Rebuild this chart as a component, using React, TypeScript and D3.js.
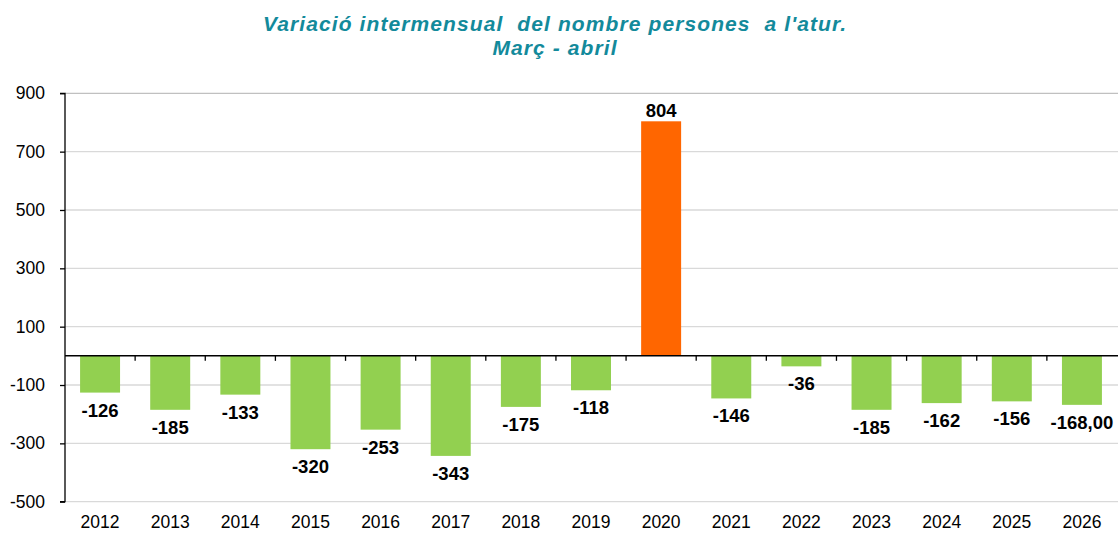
import React, { useEffect, useRef } from "react";
import * as d3 from "d3";

const years = ["2012", "2013", "2014", "2015", "2016", "2017", "2018", "2019", "2020", "2021", "2022", "2023", "2024", "2025", "2026"];
const values = [-126, -185, -133, -320, -253, -343, -175, -118, 804, -146, -36, -185, -162, -156, -168];
const labels = ["-126", "-185", "-133", "-320", "-253", "-343", "-175", "-118", "804", "-146", "-36", "-185", "-162", "-156", "-168,00"];
const yTicks = [900, 700, 500, 300, 100, -100, -300, -500];
const highlightYear = "2020";

const W = 1118;
const H = 533;
const font = "'Liberation Sans', Arial, sans-serif";

const App = () => {
  const svgRef = useRef<SVGSVGElement>(null);

  useEffect(() => {
    document.body.style.margin = "0";
    const svg = d3.select(svgRef.current);
    svg.selectAll("*").remove();

    const x = d3.scaleBand().domain(years).range([65, 1117]).paddingInner(0.43).paddingOuter(0.215);
    const y = d3.scaleLinear().domain([-500, 900]).range([501.7, 93.3]);

    // title
    const title = svg.append("text")
      .attr("text-anchor", "middle")
      .attr("font-family", font)
      .attr("font-size", 21)
      .attr("font-weight", "bold")
      .attr("font-style", "italic")
      .attr("letter-spacing", 1.1)
      .attr("fill", "#138a9b")
      .style("white-space", "pre");
    title.append("tspan").attr("x", 555).attr("y", 31).text("Variació intermensual  del nombre persones  a l'atur.");
    title.append("tspan").attr("x", 555).attr("y", 55).text("Març - abril");

    // grid
    svg.append("g").selectAll("line").data(yTicks).join("line")
      .attr("x1", 65).attr("x2", W)
      .attr("y1", (d) => y(d)).attr("y2", (d) => y(d))
      .attr("stroke", (d) => (d === 900 ? "#c0c0c0" : "#d9d9d9"))
      .attr("stroke-width", 1.3);

    // bars
    svg.append("g").selectAll("rect").data(values).join("rect")
      .attr("x", (_, i) => x(years[i])!)
      .attr("width", x.bandwidth())
      .attr("y", (d) => y(Math.max(0, d)))
      .attr("height", (d) => Math.abs(y(d) - y(0)))
      .attr("fill", (_, i) => (years[i] === highlightYear ? "#ff6600" : "#92d050"));

    // y axis
    const yAxis = d3.axisLeft(y).tickValues(yTicks).tickSize(5).tickPadding(15).tickFormat(d3.format("d"));
    const ga = svg.append("g").attr("transform", "translate(65,0)").call(yAxis);
    ga.select(".domain").attr("stroke", "#000").attr("stroke-width", 1.3).attr("d", `M-5,${y(900)}H0V${y(-500)}H-5`);
    ga.selectAll(".tick line").attr("stroke", "#000").attr("stroke-width", 1.3);
    ga.selectAll(".tick text").attr("font-family", font).attr("font-size", 17.5).attr("fill", "#000")
      .text((d: any) => (d < 0 ? "-" + Math.abs(d) : String(d)));

    // zero / category axis
    svg.append("line").attr("x1", 65).attr("x2", W).attr("y1", y(0)).attr("y2", y(0))
      .attr("stroke", "#000").attr("stroke-width", 1.5);
    const step = x.step();
    svg.append("g").selectAll("line").data(years.slice(1)).join("line")
      .attr("x1", (_, i) => 65 + step * (i + 1)).attr("x2", (_, i) => 65 + step * (i + 1))
      .attr("y1", y(0)).attr("y2", y(0) + 5)
      .attr("stroke", "#000").attr("stroke-width", 1.3);

    // x labels
    svg.append("g").selectAll("text").data(years).join("text")
      .attr("x", (d) => x(d)! + x.bandwidth() / 2)
      .attr("y", 528)
      .attr("text-anchor", "middle")
      .attr("font-family", font).attr("font-size", 17.5).attr("fill", "#000")
      .text((d) => d);

    // value labels
    svg.append("g").selectAll("text").data(values).join("text")
      .attr("x", (_, i) => x(years[i])! + x.bandwidth() / 2)
      .attr("y", (d) => (d >= 0 ? y(d) - 4 : y(d) + 24))
      .attr("text-anchor", "middle")
      .attr("font-family", font).attr("font-size", 18.5).attr("font-weight", "bold").attr("fill", "#000")
      .text((_, i) => labels[i]);
  }, []);

  return <svg ref={svgRef} width={W} height={H} style={{ display: "block" }} />;
};

export default App;
